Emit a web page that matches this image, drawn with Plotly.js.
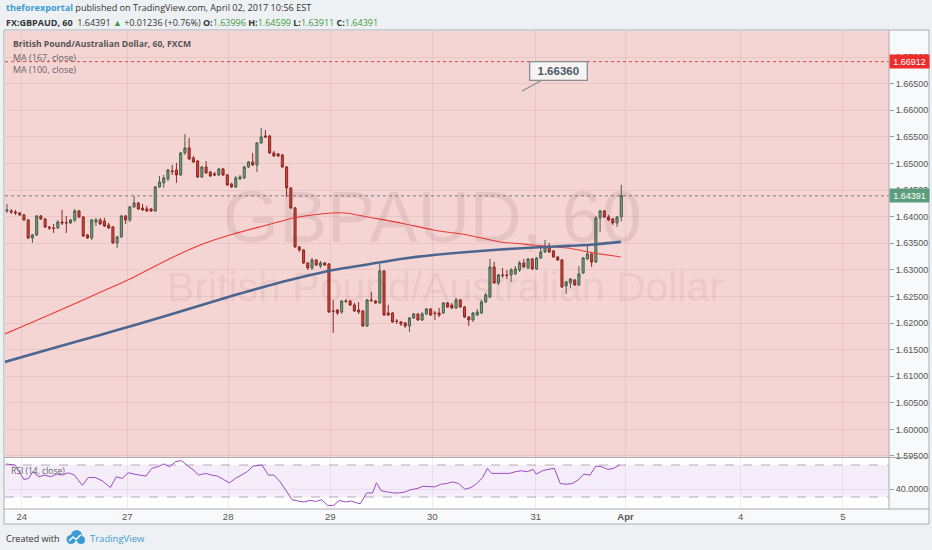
<!DOCTYPE html>
<html>
<head>
<meta charset="utf-8">
<script src="https://cdn.plot.ly/plotly-3.0.1.min.js"></script>
<style>
  html, body { margin: 0; padding: 0; background: #eef1f4; }
  #chart { width: 932px; height: 550px; }
</style>
</head>
<body>
<div id="chart"></div>
<script>
// ---------------- DATA (hourly GBPAUD candles) ----------------
const candleOpen = [
  1.64106,1.64106,1.64087,1.64069,1.64031,1.63937,1.63599,1.63655,1.64012,1.63956,
  1.63805,1.63787,1.63787,1.63899,1.63890,1.63881,1.63937,1.64106,1.63993,1.63655,
  1.63599,1.63899,1.63937,1.63918,1.63843,1.63805,1.63505,1.63617,1.64012,1.63937,
  1.64182,1.64257,1.64163,1.64144,1.64144,1.64106,1.64557,
  1.64633,1.64708,1.64858,1.64877,1.64783,1.65197,1.65291,1.65103,1.65046,1.64745,
  1.64933,1.64839,1.64802,1.64783,1.64896,1.64783,1.64614,1.64557,1.64708,1.64727,
  1.64933,1.65027,1.64971,1.65385,1.65516,1.65516,1.65197,1.65178,1.65159,1.64933,
  1.64539,1.64163,1.63430,1.63373,1.63129,
  1.63035,1.63185,1.63072,1.63129,1.63110,1.62226,1.62245,1.62207,1.62414,1.62414,
  1.62339,1.62245,1.62226,1.61944,1.62433,1.62414,1.62377,1.62978,1.62189,1.62189,
  1.62038,1.62019,1.62001,1.61944,1.62095,1.62170,1.62057,1.62170,1.62264,1.62189,
  1.62189,1.62189,1.62377,1.62339,1.62283,1.62433,1.62301,1.62113,
  1.62057,1.62151,1.62189,1.62395,1.62489,1.63053,1.62753,1.62903,1.62903,1.62903,
  1.62922,1.62997,1.63129,1.63035,1.63204,1.63016,1.63223,1.63335,1.63449,1.63354,
  1.63241,1.63185,1.62696,1.62753,1.62809,1.62715,1.62941,1.63204,1.63298,1.63147,
  1.63975,1.64106,1.63993,1.63956,1.63881,1.63996
];
const candleHigh = [
  1.64238,1.64144,1.64125,1.64087,1.64050,1.63956,1.63674,1.64031,1.64031,1.63975,
  1.63824,1.63862,1.63937,1.64125,1.64012,1.63956,1.64144,1.64125,1.64012,1.63674,
  1.63956,1.63975,1.63975,1.63975,1.63881,1.63824,1.63637,1.64031,1.64031,1.64201,
  1.64388,1.64275,1.64238,1.64201,1.64163,1.64576,1.64764,
  1.64783,1.64896,1.64971,1.65009,1.65215,1.65554,1.65479,1.65140,1.65065,1.64952,
  1.65046,1.64858,1.64839,1.64915,1.64915,1.64802,1.64633,1.64764,1.64783,1.64952,
  1.65046,1.65197,1.65403,1.65667,1.65629,1.65535,1.65234,1.65197,1.65178,1.64952,
  1.64557,1.64182,1.63449,1.63392,1.63147,
  1.63223,1.63204,1.63166,1.63147,1.63129,1.62433,1.62264,1.62433,1.62452,1.62433,
  1.62377,1.62395,1.62245,1.62452,1.62583,1.62433,1.63110,1.62997,1.62339,1.62207,
  1.62076,1.62038,1.62019,1.62113,1.62189,1.62189,1.62207,1.62283,1.62283,1.62226,
  1.62283,1.62395,1.62395,1.62377,1.62471,1.62452,1.62320,1.62132,
  1.62207,1.62264,1.62433,1.62565,1.63204,1.63147,1.62922,1.63035,1.62997,1.63035,
  1.63072,1.63166,1.63204,1.63223,1.63223,1.63241,1.63411,1.63561,1.63505,1.63373,
  1.63260,1.63204,1.62790,1.62847,1.62828,1.63072,1.63241,1.63449,1.63317,1.64012,
  1.64125,1.64125,1.64031,1.63975,1.64012,1.64599
];
const candleLow = [
  1.64069,1.64050,1.64031,1.64012,1.63918,1.63580,1.63505,1.63637,1.63937,1.63787,
  1.63749,1.63693,1.63768,1.63843,1.63693,1.63862,1.63899,1.63975,1.63617,1.63580,
  1.63561,1.63824,1.63843,1.63805,1.63768,1.63486,1.63411,1.63599,1.63862,1.63899,
  1.64163,1.64125,1.64106,1.64087,1.64087,1.64087,1.64539,
  1.64539,1.64670,1.64783,1.64633,1.64764,1.65159,1.65065,1.65009,1.64727,1.64727,
  1.64802,1.64745,1.64764,1.64764,1.64764,1.64576,1.64539,1.64539,1.64689,1.64708,
  1.64915,1.64952,1.64839,1.65366,1.65479,1.65178,1.65121,1.65121,1.64915,1.64369,
  1.64144,1.63411,1.63335,1.63110,1.62997,
  1.62997,1.63072,1.63035,1.63072,1.62189,1.61813,1.62151,1.62170,1.62377,1.62320,
  1.62207,1.62170,1.61925,1.61925,1.62395,1.62358,1.62358,1.62132,1.62132,1.62001,
  1.61982,1.61944,1.61907,1.61831,1.62076,1.62038,1.62038,1.62151,1.62132,1.62057,
  1.62113,1.62170,1.62283,1.62264,1.62264,1.62283,1.62095,1.61944,
  1.62019,1.62132,1.62170,1.62377,1.62471,1.62734,1.62715,1.62847,1.62828,1.62771,
  1.62903,1.62959,1.63035,1.63016,1.62997,1.62997,1.63204,1.63317,1.63317,1.63223,
  1.63166,1.62659,1.62546,1.62659,1.62696,1.62696,1.62922,1.63185,1.63053,1.63129,
  1.63711,1.63975,1.63918,1.63843,1.63805,1.63911
];
const candleClose = [
  1.64125,1.64087,1.64069,1.64031,1.63937,1.63599,1.63655,1.64012,1.63956,1.63805,
  1.63787,1.63778,1.63899,1.63881,1.63881,1.63937,1.64106,1.63993,1.63637,1.63599,
  1.63937,1.63937,1.63862,1.63824,1.63787,1.63505,1.63617,1.64012,1.63937,1.64182,
  1.64257,1.64144,1.64125,1.64106,1.64106,1.64557,1.64651,
  1.64727,1.64877,1.64849,1.64783,1.65197,1.65291,1.65084,1.65027,1.64745,1.64933,
  1.64821,1.64764,1.64783,1.64896,1.64783,1.64595,1.64557,1.64727,1.64745,1.64933,
  1.65027,1.64971,1.65385,1.65497,1.65497,1.65197,1.65140,1.65140,1.64933,1.64539,
  1.64163,1.63430,1.63373,1.63129,1.63035,
  1.63185,1.63091,1.63129,1.63091,1.62207,1.62217,1.62189,1.62414,1.62405,1.62339,
  1.62226,1.62207,1.61944,1.62433,1.62424,1.62377,1.62978,1.62151,1.62151,1.62019,
  1.62029,1.61982,1.61944,1.62095,1.62170,1.62057,1.62170,1.62264,1.62151,1.62179,
  1.62151,1.62377,1.62301,1.62283,1.62433,1.62301,1.62113,1.62057,
  1.62189,1.62207,1.62395,1.62527,1.63053,1.62753,1.62903,1.62894,1.62894,1.62997,
  1.63016,1.63129,1.63053,1.63204,1.63016,1.63223,1.63335,1.63430,1.63335,1.63241,
  1.63185,1.62677,1.62771,1.62828,1.62715,1.62922,1.63223,1.63298,1.63147,1.63975,
  1.64106,1.63993,1.63937,1.63881,1.63993,1.64391
];

// MA (100, close) - red, sampled along the line (bar position, price)
const ma100Bar   = [-0.5, 6.1, 14.2, 22.0, 29.8, 37.8, 45.6, 53.4, 61.4, 67.6, 74.0, 79.9, 85.1, 92.9, 100.7, 108.7, 116.5, 124.3, 132.3, 138.5, 144.9];
const ma100Price = [1.61794,1.62019,1.62301,1.62577,1.62857,1.63185,1.63467,1.63674,1.63843,1.63975,1.64050,1.64069,1.63993,1.63881,1.63749,1.63655,1.63523,1.63467,1.63411,1.63317,1.63242];
// MA (167, close) - blue
const ma167Bar   = [-0.5, 10.2, 22.0, 29.8, 37.8, 45.6, 53.4, 61.4, 69.2, 77.0, 85.1, 92.9, 100.7, 108.7, 116.5, 124.3, 132.3, 138.5, 144.9];
const ma167Price = [1.61267,1.61511,1.61775,1.61954,1.62141,1.62329,1.62518,1.62697,1.62857,1.62997,1.63101,1.63204,1.63279,1.63335,1.63382,1.63420,1.63449,1.63477,1.63525];

// RSI (14, close)
const rsiBar = [-0.3,1.9,4.0,5.1,6.1,7.5,8.9,10.3,11.7,13.1,14.5,15.9,17.8,19.2,20.8,22.5,24.4,25.8,27.2,28.6,30.0,31.4,32.8,34.2,35.6,37.0,38.4,39.8,41.2,42.7,44.1,45.2,46.9,48.3,49.7,51.1,52.5,53.9,55.3,56.7,58.1,60.2,61.7,63.0,64.5,65.9,67.3,68.7,70.1,71.5,72.9,74.3,75.7,77.1,78.5,79.9,81.3,82.7,83.4,84.9,86.3,87.2,88.4,89.8,91.2,92.6,94.0,95.4,96.8,98.2,99.6,101.0,102.4,103.8,105.2,106.6,108.1,109.5,110.9,112.3,113.4,114.4,115.8,117.2,118.6,120.0,121.4,122.8,124.2,124.9,126.4,127.7,129.2,130.6,132.0,133.4,134.8,136.2,137.6,139.0,140.4,141.8,143.2,144.6];
const rsiValue = [71.3,70.0,51.9,53.2,61.6,55.3,57.4,55.3,58.6,57.4,60.3,57.4,44.7,54.4,54.4,50.2,41.8,55.3,53.2,60.3,58.6,57.4,56.1,65.8,67.9,71.3,67.9,74.2,75.5,68.7,63.7,57.4,59.5,57.4,56.1,51.9,47.7,53.2,57.4,61.6,68.7,70.0,57.4,57.4,48.9,38.4,26.6,25.0,23.7,25.8,24.5,26.6,19.5,19.5,25.8,23.7,25.0,22.4,21.6,35.1,35.1,47.7,37.6,36.3,35.1,35.1,36.3,39.3,40.5,43.5,42.6,42.6,46.0,46.8,48.9,46.8,39.7,41.8,46.8,54.4,65.8,59.5,59.5,59.5,59.5,61.6,62.8,61.6,64.5,58.6,62.8,64.5,65.8,46.8,46.0,46.8,51.1,58.6,57.4,68.7,67.9,64.5,65.8,70.0];

// Time axis labels (bar position of each day start)
const dayTickBar  = [3.5, 28.4, 52.2, 76.3, 100.4, 124.8, 146.0, 173.2, 197.3];
const dayTickText = ['24', '27', '28', '29', '30', '31', '<b>Apr</b>', '4', '5'];

// Price markers
const lastPrice = 1.64391;
const alertPrice = 1.66912;
const calloutPrice = 1.66360;
const calloutBar = 121.6;

// ---------------- CHART ----------------
const W = 932, H = 550;
const PX = x => x / W;
const PY = y => 1 - y / H;
const bars = candleOpen.map((_, i) => i);
const FONT = 'Open Sans, Liberation Sans, Arial, sans-serif';
const AXF = 'Liberation Sans, Arial, sans-serif';

const traces = [
  {
    type: 'candlestick', x: bars, open: candleOpen, high: candleHigh, low: candleLow, close: candleClose,
    xaxis: 'x', yaxis: 'y',
    increasing: { line: { color: '#44604a', width: 1 }, fillcolor: '#7d9e80' },
    decreasing: { line: { color: '#8a2a22', width: 1 }, fillcolor: '#d4463b' },
    hoverinfo: 'skip', showlegend: false
  },
  {
    type: 'scatter', mode: 'lines', x: ma100Bar, y: ma100Price, xaxis: 'x', yaxis: 'y',
    line: { color: '#ec3b35', width: 1.1, shape: 'spline', smoothing: 0.6 }, hoverinfo: 'skip'
  },
  {
    type: 'scatter', mode: 'lines', x: ma167Bar, y: ma167Price, xaxis: 'x', yaxis: 'y',
    line: { color: '#4c6690', width: 2.6, shape: 'spline', smoothing: 0.6 }, hoverinfo: 'skip'
  },
  {
    type: 'scatter', mode: 'lines', x: rsiBar, y: rsiValue, xaxis: 'x', yaxis: 'y2',
    line: { color: '#9a4bc4', width: 1 }, hoverinfo: 'skip'
  }
];

const gridC = 'rgba(90,40,40,0.08)';
const frameC = '#a9adb2';

const shapes = [
  { type: 'rect', xref: 'paper', yref: 'paper', x0: PX(4), x1: PX(929), y0: PY(524), y1: PY(30),
    fillcolor: '#f8f9fa', line: { color: frameC, width: 1 }, layer: 'below' },
  { type: 'rect', xref: 'x domain', yref: 'y domain', x0: 0, x1: 1, y0: 0, y1: 1,
    fillcolor: '#f5d4d4', line: { width: 0 }, layer: 'below' },
  { type: 'rect', xref: 'x domain', yref: 'y2 domain', x0: 0, x1: 1, y0: 0, y1: 1,
    fillcolor: '#ffffff', line: { width: 0 }, layer: 'below' },
  { type: 'rect', xref: 'x domain', yref: 'y2', x0: 0, x1: 1, y0: 30, y1: 70,
    fillcolor: 'rgba(160,90,200,0.11)', line: { width: 0 }, layer: 'below' },
  { type: 'line', xref: 'x domain', yref: 'y2', x0: 0, x1: 1, y0: 70, y1: 70,
    line: { color: '#b3a9ba', width: 1, dash: 'dash' }, layer: 'below' },
  { type: 'line', xref: 'x domain', yref: 'y2', x0: 0, x1: 1, y0: 30, y1: 30,
    line: { color: '#b3a9ba', width: 1, dash: 'dash' }, layer: 'below' },
  { type: 'line', xref: 'x domain', yref: 'y', x0: 0, x1: 1, y0: alertPrice, y1: alertPrice,
    line: { color: '#e0463f', width: 1, dash: 'dot' }, layer: 'above' },
  { type: 'line', xref: 'x domain', yref: 'y', x0: 0, x1: 1, y0: lastPrice, y1: lastPrice,
    line: { color: '#7a7a7a', width: 1, dash: 'dot' }, layer: 'above' },
  // pane separators
  { type: 'line', xref: 'paper', yref: 'paper', x0: PX(889), x1: PX(889), y0: PY(509), y1: PY(30),
    line: { color: frameC, width: 1 }, layer: 'above' },
  { type: 'line', xref: 'paper', yref: 'paper', x0: PX(4), x1: PX(929), y0: PY(457.5), y1: PY(457.5),
    line: { color: frameC, width: 1 }, layer: 'above' },
  { type: 'line', xref: 'paper', yref: 'paper', x0: PX(4), x1: PX(929), y0: PY(509), y1: PY(509),
    line: { color: frameC, width: 1 }, layer: 'above' },
  // TradingView logo in footer
  { type: 'circle', xref: 'paper', yref: 'paper', x0: PX(66.5), x1: PX(75.5), y0: PY(544), y1: PY(535),
    fillcolor: '#3d9ad6', line: { width: 0 } },
  { type: 'circle', xref: 'paper', yref: 'paper', x0: PX(71), x1: PX(82), y0: PY(541), y1: PY(530),
    fillcolor: '#3d9ad6', line: { width: 0 } },
  { type: 'circle', xref: 'paper', yref: 'paper', x0: PX(77), x1: PX(85), y0: PY(544), y1: PY(536),
    fillcolor: '#3d9ad6', line: { width: 0 } },
  { type: 'path', xref: 'paper', yref: 'paper',
    path: `M ${PX(69)} ${PY(541)} L ${PX(73)} ${PY(537)} L ${PX(76)} ${PY(539.5)} L ${PX(81)} ${PY(534.5)}`,
    line: { color: '#ffffff', width: 1.4 } }
];

const green = '#3c9a3c';
const annotations = [
  // watermark
  { xref: 'paper', yref: 'paper', x: PX(432), y: PY(217), xanchor: 'center', yanchor: 'middle', showarrow: false,
    text: 'GBPAUD, 60', font: { family: AXF, size: 72, color: 'rgba(90,40,40,0.085)' } },
  { xref: 'paper', yref: 'paper', x: PX(445), y: PY(287), xanchor: 'center', yanchor: 'middle', showarrow: false,
    text: 'British Pound/Australian Dollar', font: { family: AXF, size: 41, color: 'rgba(90,40,40,0.085)' } },
  // header
  { xref: 'paper', yref: 'paper', x: PX(4), y: PY(8), xanchor: 'left', yanchor: 'middle', showarrow: false,
    text: '<span style="color:#3d9ad6"><b>theforexportal</b></span> published on TradingView.com, April 02, 2017 10:56 EST',
    font: { family: FONT, size: 9.1, color: '#333' } },
  { xref: 'paper', yref: 'paper', x: PX(4), y: PY(22), xanchor: 'left', yanchor: 'middle', showarrow: false,
    text: '<b>FX:GBPAUD, 60</b>  1.64391 <span style="color:' + green + '">▲</span> +0.01236 (+0.76%) ' +
          '<b>O:</b><span style="color:' + green + '">1.63996</span> <b>H:</b><span style="color:' + green + '">1.64599</span> ' +
          '<b>L:</b><span style="color:' + green + '">1.63911</span> <b>C:</b><span style="color:' + green + '">1.64391</span>',
    font: { family: FONT, size: 9, color: '#333' } },
  // pane legends
  { xref: 'paper', yref: 'paper', x: PX(11), y: PY(44), xanchor: 'left', yanchor: 'middle', showarrow: false,
    text: '<b>British Pound/Australian Dollar, 60, FXCM</b>', font: { family: FONT, size: 8.6, color: '#555' } },
  { xref: 'paper', yref: 'paper', x: PX(11), y: PY(57), xanchor: 'left', yanchor: 'middle', showarrow: false,
    text: 'MA (167, close)', font: { family: FONT, size: 9, color: '#666' } },
  { xref: 'paper', yref: 'paper', x: PX(11), y: PY(69), xanchor: 'left', yanchor: 'middle', showarrow: false,
    text: 'MA (100, close)', font: { family: FONT, size: 9, color: '#666' } },
  { xref: 'paper', yref: 'paper', x: PX(9), y: PY(470), xanchor: 'left', yanchor: 'middle', showarrow: false,
    text: 'RSI (14, close)', font: { family: FONT, size: 8.5, color: '#666' } },
  // axis price labels
  { xref: 'paper', yref: 'y', x: PX(889), y: alertPrice, xanchor: 'left', yanchor: 'middle', showarrow: false,
    text: alertPrice.toFixed(5), bgcolor: '#ee2d2a', width: 37, height: 11, borderpad: 1,
    font: { family: AXF, size: 9, color: '#ffffff' } },
  { xref: 'paper', yref: 'y', x: PX(889), y: lastPrice, xanchor: 'left', yanchor: 'middle', showarrow: false,
    text: lastPrice.toFixed(5), bgcolor: '#5c9e7c', width: 37, height: 11, borderpad: 1,
    font: { family: AXF, size: 9, color: '#ffffff' } },
  // price callout
  { xref: 'x', yref: 'y', x: calloutBar, y: calloutPrice, showarrow: true, arrowhead: 0, arrowwidth: 1.2,
    arrowcolor: '#8b8f94', ax: 36, ay: -20, text: '<b>' + calloutPrice.toFixed(5) + '</b>',
    bgcolor: '#f6f3f3', bordercolor: '#8b8f94', borderwidth: 1.3, borderpad: 1, width: 54, height: 15,
    font: { family: AXF, size: 11.5, color: '#4d5a66' } },
  // footer
  { xref: 'paper', yref: 'paper', x: PX(4), y: PY(538), xanchor: 'left', yanchor: 'middle', showarrow: false,
    text: 'Created with', font: { family: FONT, size: 9, color: '#333' } },
  { xref: 'paper', yref: 'paper', x: PX(88), y: PY(538), xanchor: 'left', yanchor: 'middle', showarrow: false,
    text: 'TradingView', font: { family: FONT, size: 9.5, color: '#3d9ad6' } }
];

const layout = {
  width: W, height: H,
  margin: { l: 0, r: 0, t: 0, b: 0 },
  paper_bgcolor: '#eef1f4',
  plot_bgcolor: 'rgba(0,0,0,0)',
  showlegend: false,
  xaxis: {
    domain: [PX(5), PX(889)], range: [-0.47, 208.2], anchor: 'y2',
    tickvals: dayTickBar, ticktext: dayTickText, ticks: '',
    showgrid: true, gridcolor: gridC, zeroline: false, showline: false,
    tickfont: { family: AXF, size: 9.5, color: '#555' },
    rangeslider: { visible: false }, fixedrange: true
  },
  yaxis: {
    domain: [1 - 457 / H, 1 - 31 / H], range: [1.59481, 1.67489], anchor: 'x', side: 'right',
    tick0: 1.595, dtick: 0.005, tickformat: '.5f',
    ticks: 'outside', ticklen: 4, tickcolor: '#9aa0a6',
    showgrid: true, gridcolor: gridC, zeroline: false, showline: false,
    tickfont: { family: AXF, size: 9, color: '#555' }, fixedrange: true
  },
  yaxis2: {
    domain: [1 - 509 / H, 1 - 458 / H], range: [15, 78.75], anchor: 'x', side: 'right',
    tickvals: [40], tickformat: '.4f',
    ticks: 'outside', ticklen: 4, tickcolor: '#9aa0a6',
    showgrid: true, gridcolor: 'rgba(120,80,150,0.10)', zeroline: false, showline: false,
    tickfont: { family: AXF, size: 9, color: '#555' }, fixedrange: true
  },
  shapes: shapes,
  annotations: annotations
};

Plotly.newPlot('chart', traces, layout, { displayModeBar: false, staticPlot: true });
</script>
</body>
</html>
